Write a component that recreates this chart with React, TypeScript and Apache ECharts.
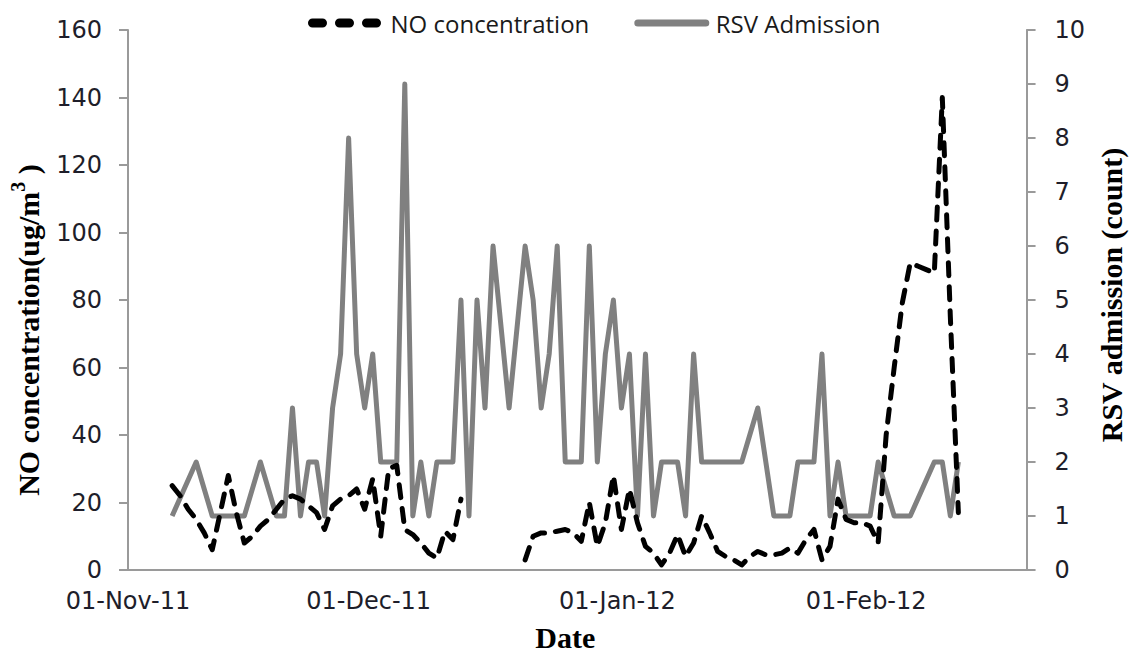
import React, { useEffect, useRef } from 'react';
import * as echarts from 'echarts';

// ---- axis domain (daily bins, 01-Nov-11 .. 20-Feb-12) ----
const axisStartUTC = Date.UTC(2011, 10, 1);
const axisDayCount = 112;
const monthNames = ['Jan', 'Feb', 'Mar', 'Apr', 'May', 'Jun', 'Jul', 'Aug', 'Sep', 'Oct', 'Nov', 'Dec'];

// ---- left axis ticks ----
const noAxisMin = 0;
const noAxisMax = 160;
const noAxisStep = 20;
// ---- right axis ticks ----
const rsvAxisMin = 0;
const rsvAxisMax = 10;
const rsvAxisStep = 1;

// ---- RSV admissions (count), days with admissions ----
const rsvDates = [
  '2011-11-06', '2011-11-09', '2011-11-11', '2011-11-15', '2011-11-17', '2011-11-19', '2011-11-20',
  '2011-11-21', '2011-11-22', '2011-11-23', '2011-11-24', '2011-11-25', '2011-11-26', '2011-11-27',
  '2011-11-28', '2011-11-29', '2011-11-30', '2011-12-01', '2011-12-02', '2011-12-04', '2011-12-05',
  '2011-12-06', '2011-12-07', '2011-12-08', '2011-12-09', '2011-12-11', '2011-12-12', '2011-12-13',
  '2011-12-14', '2011-12-15', '2011-12-16', '2011-12-18', '2011-12-20', '2011-12-21', '2011-12-22',
  '2011-12-23', '2011-12-24', '2011-12-25', '2011-12-27', '2011-12-28', '2011-12-29', '2011-12-30',
  '2011-12-31', '2012-01-01', '2012-01-02', '2012-01-03', '2012-01-04', '2012-01-05', '2012-01-06',
  '2012-01-08', '2012-01-09', '2012-01-10', '2012-01-11', '2012-01-16', '2012-01-18', '2012-01-20',
  '2012-01-22', '2012-01-23', '2012-01-25', '2012-01-26', '2012-01-27', '2012-01-28', '2012-01-29',
  '2012-02-01', '2012-02-02', '2012-02-04', '2012-02-06', '2012-02-09', '2012-02-10', '2012-02-11',
  '2012-02-12',
];
const rsvCounts = [
  1, 2, 1, 1, 2, 1, 1,
  3, 1, 2, 2, 1, 3, 4,
  8, 4, 3, 4, 2, 2, 9,
  1, 2, 1, 2, 2, 5, 1,
  5, 3, 6, 3, 6, 5, 3,
  4, 6, 2, 2, 6, 2, 4,
  5, 3, 4, 1, 4, 1, 2,
  2, 1, 4, 2, 2, 3, 1,
  1, 2, 2, 4, 1, 2, 1,
  1, 2, 1, 1, 2, 2, 1,
  2,
];

// ---- NO concentration (ug/m3), daily from 06-Nov-11; null = no measurement ----
const noFirstDate = '2011-11-06';
const noValues: (number | null)[] = [
  25, 22, 18, 15, 11, 6, 17, 28, 17, 8,
  10, 13, 15, 18, 21, 22, 21, 19, 17, 12,
  19, 21, 22, 24, 18, 27, 10, 30, 31, 12,
  10.5, 8, 5, 3.5, 11.5, 9, 21,
  null, null, null, null, null, null, null,
  3, 10, 11, 11, 11.5, 12, 11, 8.5, 20, 7,
  14, 28, 12, 24, 14, 7, 5, 1.5, 5, 10.5,
  4, 8, 16, 11, 5.5, 4, 3, 1.5, 4, 5.5,
  4.5, 4.5, 5, 6.5, 5, 9, 12, 3, 7, 21,
  15, 14, 14, 13, 8, 40, 60, 79, 91, 90,
  89, 88, 140, 75, 17,
];

const DAY = 86400000;
const iso = (t: number) => new Date(t).toISOString().slice(0, 10);
const dayCategories = Array.from({ length: axisDayCount }, (_, i) => iso(axisStartUTC + i * DAY));
const noStartUTC = Date.parse(noFirstDate + 'T00:00:00Z');
const noData = noValues.map((v, i) => [iso(noStartUTC + i * DAY), v == null ? '-' : v]);
const rsvData = rsvDates.map((d, i) => [d, rsvCounts[i]]);

const isMonthStart = (_i: number, v: string) => v.slice(8, 10) === '01';
const fmtDate = (v: string) => {
  const [y, m, d] = v.split('-');
  return `${d}-${monthNames[Number(m) - 1]}-${y.slice(2)}`;
};

const AXIS = '#9a9a9a';
const TICK_FONT = { fontFamily: 'DejaVu Sans', fontSize: 24, color: '#1e1e2a' };
const TITLE_FONT = { fontFamily: 'Liberation Serif', fontWeight: 'bold' as const, fontSize: 30, color: '#000' };
const HIDDEN_SYMBOL = { color: 'rgba(0,0,0,0)', borderWidth: 0, opacity: 0 };

// layout expressed relative to the 1134 x 657 frame
const pctW = (px: number) => `${(px / 1134) * 100}%`;
const pctH = (px: number) => `${(px / 657) * 100}%`;

const App = () => {
  const ref = useRef<HTMLDivElement>(null);
  useEffect(() => {
    const chart = echarts.init(ref.current!, null, { renderer: 'svg' });
    chart.setOption({
      animation: false,
      backgroundColor: '#fff',
      grid: { left: pctW(125), right: pctW(1134 - 1046), top: pctH(30), bottom: pctH(657 - 580), containLabel: false },
      legend: {
        left: pctW(308),
        top: pctH(11),
        padding: 0,
        itemWidth: 68,
        itemHeight: 14,
        itemGap: 45,
        textStyle: { fontFamily: 'Open Sans', fontSize: 24, color: '#1a1a1a', padding: [0, 0, 0, 5] },
        data: [
          { name: 'NO concentration', itemStyle: HIDDEN_SYMBOL, lineStyle: { width: 9, type: [10, 17], cap: 'round', color: '#000' } },
          { name: 'RSV Admission', itemStyle: HIDDEN_SYMBOL, lineStyle: { width: 7, cap: 'round', color: '#808080' } },
        ],
      },
      xAxis: {
        type: 'category',
        data: dayCategories,
        boundaryGap: true,
        axisLine: { lineStyle: { color: AXIS, width: 2 } },
        axisTick: { interval: isMonthStart, length: 9, lineStyle: { color: AXIS, width: 2 } },
        axisLabel: { interval: isMonthStart, formatter: fmtDate, margin: 19, padding: [0, 8, 0, 0], ...TICK_FONT },
        splitLine: { show: false },
        name: 'Date',
        nameLocation: 'middle',
        nameGap: 52,
        nameTextStyle: { ...TITLE_FONT, padding: [0, 24, 0, 0] },
      },
      yAxis: [
        {
          type: 'value',
          position: 'left',
          min: noAxisMin,
          max: noAxisMax,
          interval: noAxisStep,
          axisLine: { show: true, lineStyle: { color: AXIS, width: 2 } },
          axisTick: { show: true, length: 9, lineStyle: { color: AXIS, width: 2 } },
          axisLabel: { margin: 26, ...TICK_FONT },
          splitLine: { show: false },
          name: 'NO concentration(ug/m{sup|3} )',
          nameLocation: 'middle',
          nameGap: 80,
          nameRotate: 90,
          nameTextStyle: {
            ...TITLE_FONT,
            padding: [0, 60, 0, 0],
            rich: { sup: { ...TITLE_FONT, fontSize: 20, verticalAlign: 'top', padding: [0, 0, 20, 0] } },
          },
        },
        {
          type: 'value',
          position: 'right',
          min: rsvAxisMin,
          max: rsvAxisMax,
          interval: rsvAxisStep,
          axisLine: { show: true, lineStyle: { color: AXIS, width: 2 } },
          axisTick: { show: true, length: 9, lineStyle: { color: AXIS, width: 2 } },
          axisLabel: { margin: 28, ...TICK_FONT },
          splitLine: { show: false },
          name: 'RSV admission (count)',
          nameLocation: 'middle',
          nameGap: 64,
          nameRotate: 90,
          nameTextStyle: { ...TITLE_FONT, padding: [0, 0, 0, 10] },
        },
      ],
      series: [
        {
          name: 'RSV Admission',
          type: 'line',
          yAxisIndex: 1,
          data: rsvData,
          symbol: 'none',
          z: 2,
          itemStyle: { color: '#808080' },
          lineStyle: { color: '#808080', width: 5, join: 'round' },
        },
        {
          name: 'NO concentration',
          type: 'line',
          yAxisIndex: 0,
          data: noData,
          symbol: 'none',
          connectNulls: false,
          z: 3,
          itemStyle: { color: '#000' },
          lineStyle: { color: '#000', width: 5, type: [13, 11], cap: 'round', join: 'round' },
        },
      ],
    });
    const onResize = () => chart.resize();
    window.addEventListener('resize', onResize);
    return () => {
      window.removeEventListener('resize', onResize);
      chart.dispose();
    };
  }, []);
  return (
    <div
      ref={ref}
      style={{ position: 'fixed', left: 0, top: 0, width: '100vw', height: '100vh', background: '#fff' }}
    />
  );
};

export default App;
